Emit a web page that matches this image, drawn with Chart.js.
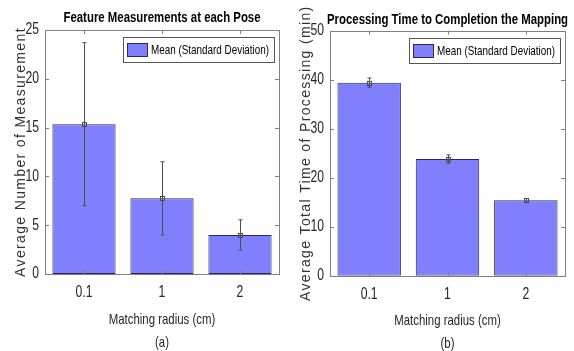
<!DOCTYPE html>
<html>
<head>
<meta charset="utf-8">
<script src="https://cdn.jsdelivr.net/npm/chart.js@4/dist/chart.umd.min.js"></script>
<style>
  html, body { margin: 0; padding: 0; background: #fff; width: 574px; height: 351px; overflow: hidden; }
  .wrap { position: absolute; top: 0; width: 287px; height: 360px; }
  #w1 { left: 0; }
  #w2 { left: 287px; }
</style>
</head>
<body>
<div class="wrap" id="w1"><canvas id="c1"></canvas></div>
<div class="wrap" id="w2"><canvas id="c2"></canvas></div>
<script>
// ---- data ----
const categories = ['0.1', '1', '2'];
const featureMean = [15.35, 7.75, 4.0];
const featureStd  = [8.35, 3.75, 1.55];
const timeMean    = [39.4, 23.8, 15.4];
const timeStd     = [0.95, 0.85, 0.35];
const featureTickStep = 5, featureMax = 25;
const timeTickStep = 10, timeMax = 50;
const legendLabel = 'Mean (Standard Deviation)';

// "Arial Narrow" is not installed: such text falls back to Liberation Sans and is
// condensed horizontally when drawn.
const NARROW = "'Arial Narrow', 'Liberation Sans', Arial, sans-serif";
const REG = "'Liberation Sans', Arial, sans-serif";
const SX = 0.76;
const BAR_FILL = '#8080ff';
const BAR_EDGE = '#2a2a5a';
const AXIS = '#808080';

function patchCtx(canvas) {
  const ctx = canvas.getContext('2d');
  const P = CanvasRenderingContext2D.prototype;
  const isNarrow = c => c.font.indexOf('Arial Narrow') >= 0;
  ctx.fillText = function (t, x, y, mw) {
    if (isNarrow(this)) {
      this.save(); this.translate(x, y); this.scale(SX, 1);
      P.fillText.call(this, t, 0, 0);
      this.restore();
    } else if (mw === undefined) P.fillText.call(this, t, x, y);
    else P.fillText.call(this, t, x, y, mw);
  };
  ctx.measureText = function (t) {
    const m = P.measureText.call(this, t);
    if (!isNarrow(this)) return m;
    return {
      width: m.width * SX,
      actualBoundingBoxAscent: m.actualBoundingBoxAscent,
      actualBoundingBoxDescent: m.actualBoundingBoxDescent,
      actualBoundingBoxLeft: m.actualBoundingBoxLeft * SX,
      actualBoundingBoxRight: m.actualBoundingBoxRight * SX
    };
  };
  return canvas;
}

function spacedTitle(scale) {
  if (scale._spaced) return;
  const orig = scale.drawTitle;
  scale.drawTitle = function () {
    const c = this.ctx; c.save(); c.letterSpacing = '1.35px'; orig.call(this); c.restore();
  };
  scale._spaced = true;
}

const boxPlugin = {
  id: 'matlabBox',
  afterDatasetsDraw(chart) {
    const ctx = chart.ctx, a = chart.chartArea;
    const xs = chart.scales.x, ys = chart.scales.y;
    ctx.save();
    ctx.strokeStyle = AXIS; ctx.lineWidth = 1;
    ctx.strokeRect(Math.round(a.left) + 0.5, Math.round(a.top) + 0.5,
                   Math.round(a.right - a.left), Math.round(a.bottom - a.top));
    const L = 4;
    ctx.beginPath();
    ys.ticks.forEach(t => {
      const p = Math.round(ys.getPixelForValue(t.value)) + 0.5;
      ctx.moveTo(a.left, p); ctx.lineTo(a.left + L, p);
      ctx.moveTo(a.right, p); ctx.lineTo(a.right - L, p);
    });
    xs.ticks.forEach((t, i) => {
      const p = Math.round(xs.getPixelForTick(i)) + 0.5;
      ctx.moveTo(p, a.bottom); ctx.lineTo(p, a.bottom - L);
      ctx.moveTo(p, a.top); ctx.lineTo(p, a.top + L);
    });
    ctx.stroke();
    // error bars: mean +/- standard deviation
    chart.data.datasets.forEach((ds, di) => {
      const meta = chart.getDatasetMeta(di);
      meta.data.forEach((el, i) => {
        const m = ds.data[i], s = ds.errors[i];
        const x = Math.round(el.x) + 0.5;
        const y1 = ys.getPixelForValue(m + s), y2 = ys.getPixelForValue(m - s), ym = ys.getPixelForValue(m);
        ctx.strokeStyle = '#4d4d4d'; ctx.lineWidth = 1;
        ctx.beginPath();
        ctx.moveTo(x, y1); ctx.lineTo(x, y2);
        ctx.moveTo(x - 2, y1); ctx.lineTo(x + 2, y1);
        ctx.moveTo(x - 2, y2); ctx.lineTo(x + 2, y2);
        ctx.stroke();
        ctx.strokeRect(x - 2, Math.round(ym) - 1.5, 4, 4);
      });
    });
    ctx.restore();
  },
  afterDraw(chart) {
    // legend box in the top-right corner of the axes
    const ctx = chart.ctx, a = chart.chartArea;
    const ds = chart.data.datasets[0];
    ctx.save();
    ctx.font = `13px ${NARROW}`;
    const tw = ctx.measureText(ds.label).width;
    const w = 4 + 20 + 4 + tw + 5, h = 25;
    const left = Math.round(a.right - 5 - w), top = Math.round(a.top + 7);
    ctx.fillStyle = '#fff';
    ctx.fillRect(left, top, w, h);
    ctx.strokeStyle = '#555'; ctx.lineWidth = 1;
    ctx.strokeRect(left + 0.5, top + 0.5, Math.round(w), h);
    ctx.fillStyle = ds.backgroundColor;
    ctx.fillRect(left + 4, top + 6, 20, 13);
    ctx.strokeStyle = ds.borderColor;
    ctx.strokeRect(left + 4.5, top + 6.5, 20, 13);
    ctx.fillStyle = '#000';
    ctx.textAlign = 'left'; ctx.textBaseline = 'middle';
    ctx.fillText(ds.label, left + 28, top + 13);
    ctx.restore();
  }
};

function makeChart(id, o) {
  return new Chart(patchCtx(document.getElementById(id)), {
    type: 'bar',
    data: {
      labels: categories,
      datasets: [{
        label: legendLabel,
        data: o.mean,
        errors: o.std,
        backgroundColor: BAR_FILL,
        borderColor: BAR_EDGE,
        borderWidth: 1,
        borderSkipped: false,
        categoryPercentage: 1.0,
        barPercentage: 0.81
      }]
    },
    options: {
      responsive: true,
      maintainAspectRatio: false,
      animation: false,
      devicePixelRatio: 1,
      layout: { padding: { left: 0, right: o.padRight, top: 0, bottom: 0 } },
      plugins: {
        title: {
          display: true, text: o.title, color: '#000', fullSize: false,
          font: { family: NARROW, size: o.titleSize, weight: 'bold', lineHeight: 1.2 },
          padding: { top: o.titleTop, bottom: o.titleBottom }
        },
        legend: { display: false },
        tooltip: { enabled: false }
      },
      scales: {
        x: {
          grid: { display: false, drawTicks: false },
          border: { display: false },
          ticks: { color: '#262626', font: { family: NARROW, size: 16 }, padding: 9 },
          title: {
            display: true, text: ['Matching radius (cm)', o.tag], color: '#262626',
            font: { family: NARROW, size: 15, lineHeight: 1.53 },
            padding: { top: 0, bottom: o.xTitleBottom }
          },
          afterFit: s => { s.height = o.xHeight; }
        },
        y: {
          min: 0, max: o.max,
          grid: { display: false, drawTicks: false },
          border: { display: false },
          ticks: { stepSize: o.step, color: '#262626', font: { family: NARROW, size: 16 }, padding: 6 },
          title: {
            display: true, text: o.yTitle, color: '#333',
            font: { family: REG, size: 14 },
            padding: { top: o.yTitleTop, bottom: 0 }
          },
          afterFit: s => { s.width = o.yWidth; spacedTitle(s); }
        }
      }
    },
    plugins: [boxPlugin]
  });
}

makeChart('c1', {
  mean: featureMean, std: featureStd, max: featureMax, step: featureTickStep,
  title: 'Feature Measurements at each Pose', titleSize: 15,
  yTitle: 'Average Number of Measurement', tag: '(a)',
  padRight: 8, titleTop: 9, titleBottom: 3, xHeight: 86, yWidth: 45,
  xTitleBottom: 5.5, yTitleTop: 13
});
makeChart('c2', {
  mean: timeMean, std: timeStd, max: timeMax, step: timeTickStep,
  title: 'Processing Time to Completion the Mapping', titleSize: 15,
  yTitle: 'Average Total Time of Processing (min)', tag: '(b)',
  padRight: 9, titleTop: 10.7, titleBottom: 2, xHeight: 84.3, yWidth: 43,
  xTitleBottom: 4.5, yTitleTop: 11
});
</script>
</body>
</html>
